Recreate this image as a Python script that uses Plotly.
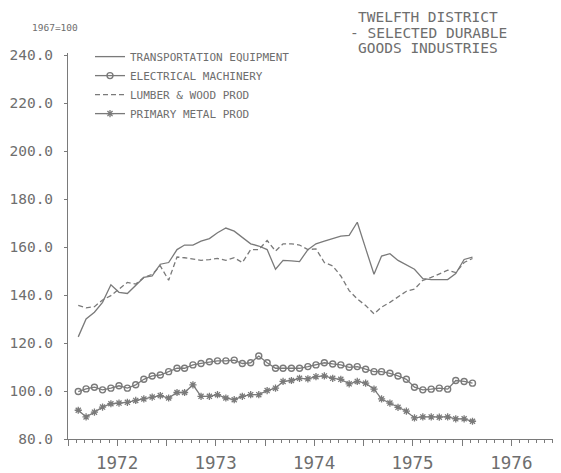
import plotly.graph_objects as go
import pandas as pd

# ---------------- data ----------------
first_month = "1972-02-01"
n_months = 49

transportation = [122.6, 130.1, 132.9, 137.0, 144.3, 141.2, 140.7, 143.9, 147.4, 148.0,
                  152.9, 153.6, 159.0, 160.9, 160.9, 162.5, 163.6, 166.0, 168.0, 166.7,
                  163.9, 161.4, 160.5, 159.0, 150.8, 154.5, 154.3, 154.0, 159.0, 161.4,
                  162.5, 163.5, 164.6, 164.9, 170.4, 159.5, 148.7, 156.3, 157.3, 154.5,
                  152.6, 150.8, 146.9, 146.5, 146.5, 146.5, 149.0, 154.9, 155.9]

electrical = [99.8, 100.9, 101.6, 100.5, 101.2, 102.2, 101.2, 102.6, 104.9, 106.3,
              106.7, 108.1, 109.5, 109.5, 110.9, 111.5, 112.2, 112.6, 112.6, 112.9,
              111.5, 111.8, 114.6, 111.8, 109.5, 109.5, 109.5, 109.5, 110.2, 110.9,
              111.8, 111.3, 110.9, 109.9, 110.2, 109.1, 108.1, 108.1, 107.4, 106.3,
              104.9, 101.6, 100.5, 100.8, 101.2, 100.8, 104.4, 104.0, 103.3]

lumber = [135.7, 134.7, 135.2, 138.0, 139.8, 142.5, 145.3, 144.6, 147.4, 148.7,
          152.2, 146.2, 155.9, 155.6, 154.9, 154.5, 154.8, 155.3, 154.5, 155.6,
          153.6, 159.0, 159.0, 162.8, 158.4, 161.4, 161.4, 160.9, 159.0, 159.3,
          153.6, 152.2, 148.0, 141.9, 138.4, 135.7, 132.2, 135.0, 137.0, 139.1,
          141.6, 142.5, 146.2, 147.4, 149.0, 150.4, 149.4, 153.6, 155.3]

primary_metal = [92.0, 89.2, 91.2, 93.3, 94.7, 95.0, 95.3, 96.1, 96.7, 97.5,
                 98.1, 97.1, 99.4, 99.4, 102.6, 97.8, 97.8, 98.5, 97.1, 96.4,
                 97.8, 98.5, 98.5, 100.2, 101.2, 104.0, 104.4, 105.3, 105.1, 106.0,
                 106.3, 105.3, 104.9, 103.0, 104.0, 103.3, 100.8, 96.7, 95.0, 93.2,
                 91.6, 88.8, 89.2, 89.2, 89.1, 89.2, 88.4, 88.4, 87.4]

series_names = ["TRANSPORTATION EQUIPMENT", "ELECTRICAL MACHINERY",
                "LUMBER & WOOD PROD", "PRIMARY METAL PROD"]
year_labels = ["1972", "1973", "1974", "1975", "1976"]
y_tick_values = [80, 100, 120, 140, 160, 180, 200, 220, 240]
title_lines = ["TWELFTH DISTRICT", "- SELECTED DURABLE", "GOODS INDUSTRIES"]
base_note = "1967=100"

# ---------------- layout geometry ----------------
OFF = 8                      # page body margin
W, H = 561 - OFF, 473 - OFF
L, R, T, B = 60, 0, 45, 30
PW, PH = W - L - R, H - T - B
GRAY = "#7a7a7a"
TXT = "#6e6e6e"
FONT = "DejaVu Sans Mono"


def px_x(px):
    return (px - OFF - L) / PW


def px_y(py):
    return (H - B - (py - OFF)) / PH


dates = pd.date_range(first_month, periods=n_months, freq="MS") + pd.Timedelta(days=7)

fig = go.Figure()
fig.add_trace(go.Scatter(x=dates, y=transportation, name=series_names[0], mode="lines",
                         line=dict(color=GRAY, width=1.3)))
fig.add_trace(go.Scatter(x=dates, y=electrical, name=series_names[1], mode="lines+markers",
                         line=dict(color=GRAY, width=1.3),
                         marker=dict(symbol="circle-open", size=6, color=GRAY,
                                     line=dict(width=1.4, color=GRAY))))
fig.add_trace(go.Scatter(x=dates, y=lumber, name=series_names[2], mode="lines",
                         line=dict(color=GRAY, width=1.3, dash="5px,3px")))
fig.add_trace(go.Scatter(x=dates, y=primary_metal, name=series_names[3], mode="lines+markers",
                         line=dict(color=GRAY, width=1.3),
                         marker=dict(symbol="asterisk-open", size=6, color=GRAY,
                                     line=dict(width=1.3, color=GRAY))))

years = [1972, 1973, 1974, 1975, 1976, 1977]
tick_vals, tick_text = [], []
for yv in years:
    tick_vals.append(f"{yv}-01-01")
    tick_text.append("")
    if str(yv) in year_labels:
        tick_vals.append(f"{yv}-07-01")
        tick_text.append(str(yv))

x_range = ["1972-01-01", "1977-01-01"]

fig.update_layout(
    width=W, height=H,
    margin=dict(l=L, r=R, t=T, b=B, pad=0),
    paper_bgcolor="white", plot_bgcolor="white",
    font=dict(family=FONT, color=TXT),
    showlegend=True,
    legend=dict(x=px_x(90), y=px_y(42), xanchor="left", yanchor="top",
                bgcolor="rgba(0,0,0,0)", font=dict(family=FONT, size=11, color=TXT),
                tracegroupgap=0, itemwidth=30),
    xaxis=dict(type="date", range=x_range, tickmode="array", tickvals=tick_vals,
               ticktext=tick_text, ticks="outside", ticklen=6, tickwidth=1, tickcolor=GRAY,
               showline=True, linecolor=GRAY, linewidth=1, showgrid=False, zeroline=False,
               tickfont=dict(family=FONT, size=17.5, color=TXT), ticklabelstandoff=2,
               minor=dict(dtick="M1", tick0="1972-01-01", ticks="outside", ticklen=3,
                          tickcolor=GRAY, tickwidth=1, showgrid=False)),
    xaxis2=dict(type="date", range=x_range, overlaying="x", anchor="y", side="bottom",
                tickmode="array", tickvals=tick_vals, ticktext=["" for _ in tick_vals],
                ticks="inside", ticklen=6, tickwidth=1, tickcolor=GRAY,
                showline=False, showgrid=False, zeroline=False, showticklabels=False,
                minor=dict(dtick="M1", tick0="1972-01-01", ticks="inside", ticklen=3,
                           tickcolor=GRAY, tickwidth=1, showgrid=False)),
    yaxis=dict(range=[80, 241], tickmode="array", tickvals=y_tick_values,
               ticktext=[f"{v:.1f}" for v in y_tick_values],
               ticks="outside", ticklen=3, tickwidth=1, tickcolor=GRAY,
               showline=True, linecolor=GRAY, linewidth=1, showgrid=False, zeroline=False,
               tickfont=dict(family=FONT, size=14.5, color=TXT), ticklabelstandoff=8),
)

# title lines
for i, line in enumerate(title_lines):
    fig.add_annotation(text=line, xref="paper", yref="paper", x=px_x(428),
                       y=px_y(17 + 15.5 * i), xanchor="center", yanchor="middle",
                       showarrow=False, borderpad=0,
                       font=dict(family=FONT, size=14.5, color=TXT))

fig.add_annotation(text=base_note, xref="paper", yref="paper", x=px_x(30), y=px_y(27),
                   xanchor="left", yanchor="middle", showarrow=False,
                   font=dict(family=FONT, size=9.5, color=TXT))

fig.write_html("out.html")
